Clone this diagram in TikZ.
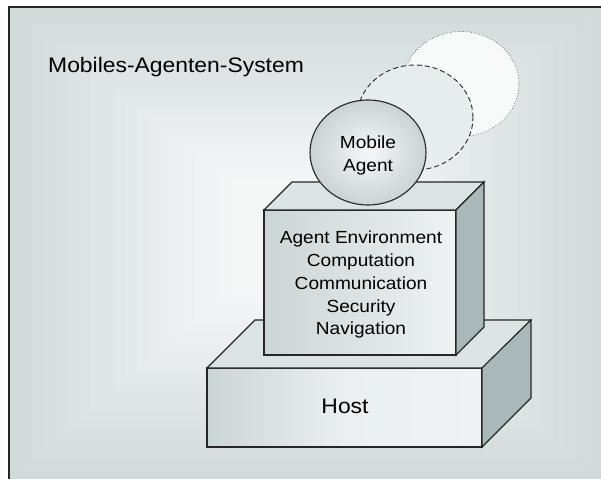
\documentclass[tikz,border=0pt]{standalone}
\usepackage{fontspec}
\setmainfont{Liberation Sans}[FakeStretch=1.09]
\usetikzlibrary{shapes.geometric}
\definecolor{bgedge}{HTML}{D2DADA}
\definecolor{bgcenter}{HTML}{F7F9F9}
\definecolor{topface}{HTML}{DCE3E3}
\definecolor{sideface}{HTML}{A9B9B9}
\definecolor{frontdark}{HTML}{CCD5D5}
\definecolor{frontlight}{HTML}{EEF2F2}
\definecolor{ballout}{HTML}{CAD3D3}
\definecolor{ballin}{HTML}{F6F8F8}
\definecolor{ghostone}{HTML}{E7ECEC}
\definecolor{ghosttwo}{HTML}{F8FAFA}
\tikzset{
  edge/.style={draw=black!85, line width=1.1pt, line join=miter},
  lbl/.style={inner sep=0pt, font=\fontsize{17.5}{23}\selectfont},
  bigl/.style={inner sep=0pt, font=\fontsize{21}{25}\selectfont},
  ball/.style={ellipse, minimum width=116pt, minimum height=105pt, inner sep=0pt}
}
\begin{document}
\begin{tikzpicture}[x=1pt,y=-1pt]
\useasboundingbox (0,0) rectangle (601,479);
\fill[white] (0,0) rectangle (601,479);
% background with rectangular gradient
\foreach \i in {0,...,19} {
  \pgfmathsetmacro\t{\i/20}
  \pgfmathtruncatemacro\p{100*\t}
  \fill[bgcenter!\p!bgedge]
    ({9+\t*(300-9)*0.8},{7+\t*(235-7)*0.8}) rectangle
    ({601-\t*(601-300)*0.8},{479-\t*(479-235)*0.8});
}
% frame
\draw[black!85, line width=1.3pt] (9,479) -- (9,7) -- (601,7);
% title
\node[bigl, anchor=base west] (title) at (48,72) {Mobiles-Agenten-System};
% ghost positions of the agent
\node[ball, draw=black!70, line width=0.7pt, dotted, fill=ghosttwo] (ghost2) at (461,84) {};
\node[ball, draw=black!85, line width=0.9pt, dash pattern=on 5pt off 3pt, fill=ghostone] (ghost1) at (415,117.5) {};
% host box
\fill[left color=frontdark, right color=frontlight, middle color=frontlight!90!frontdark] (207,368) rectangle (482,447);
\draw[edge] (207,368) rectangle (482,447);
\draw[edge, fill=topface] (207,368) -- (255,320) -- (531,320) -- (482,368) -- cycle;
\draw[edge, fill=sideface] (482,368) -- (531,320) -- (531,398) -- (482,447) -- cycle;
\node[bigl, anchor=base] (host) at (345,413) {Host};
% agent environment box
\fill[left color=frontdark, right color=frontlight] (264,210) rectangle (456,355);
\draw[edge] (264,210) rectangle (456,355);
\draw[edge, fill=topface] (264,210) -- (292,182) -- (484,182) -- (456,210) -- cycle;
\draw[edge, fill=sideface] (456,210) -- (484,182) -- (484,327) -- (456,355) -- cycle;
\node[lbl, anchor=base] (env1) at (361,243) {Agent Environment};
\node[lbl, anchor=base] (env2) at (361,266) {Computation};
\node[lbl, anchor=base] (env3) at (361,289) {Communication};
\node[lbl, anchor=base] (env4) at (361,312) {Security};
\node[lbl, anchor=base] (env5) at (361,334) {Navigation};
% mobile agent
\node[ball, draw=black!85, line width=1.1pt, inner color=ballin, outer color=ballout] (agent) at (368,152.5) {};
\node[lbl, anchor=base] (agent1) at (368,148) {Mobile};
\node[lbl, anchor=base] (agent2) at (368,171) {Agent};
\end{tikzpicture}
\end{document}
